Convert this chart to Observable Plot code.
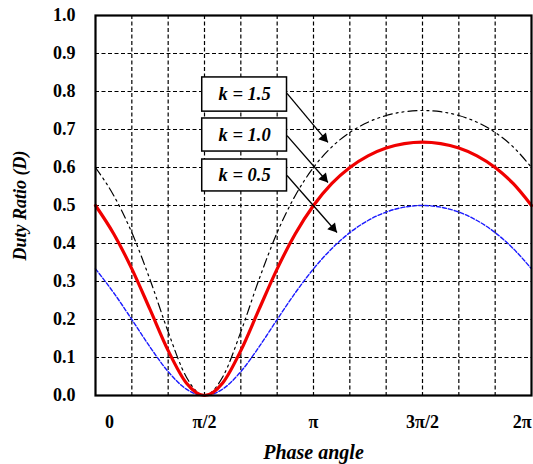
<!DOCTYPE html>
<html><head><meta charset="utf-8">
<script src="https://cdn.jsdelivr.net/npm/d3@7"></script>
<script src="https://cdn.jsdelivr.net/npm/@observablehq/plot@0.6"></script>
<style>body{margin:0;background:#fff;}</style>
</head><body><div id="chart"></div>
<script>
// Phase angle samples (degrees) and duty ratio
const phaseDeg = [0,15,30,45,60,75,90,105,120,135,150,165,180,195,210,225,240,255,270,285,300,315,330,345,360];
const dutyK15 = [0.6,0.5265,0.4286,0.3052,0.1674,0.0487,0,0.0487,0.1674,0.3052,0.4286,0.5265,0.6,0.6538,0.6923,0.7192,0.7368,0.7468,0.75,0.7468,0.7368,0.7192,0.6923,0.6538,0.6];
const dutyK10 = [0.5,0.4257,0.3333,0.2265,0.1182,0.033,0,0.033,0.1182,0.2265,0.3333,0.4257,0.5,0.5573,0.6,0.6306,0.6511,0.6628,0.6667,0.6628,0.6511,0.6306,0.6,0.5573,0.5];
const dutyK05 = [0.3333,0.2704,0.2,0.1277,0.0628,0.0168,0,0.0168,0.0628,0.1277,0.2,0.2704,0.3333,0.3863,0.4286,0.4605,0.4827,0.4957,0.5,0.4957,0.4827,0.4605,0.4286,0.3863,0.3333];
const seriesNames = ["k = 1.5", "k = 1.0", "k = 0.5"];

const xTickLabels = ["0", "π/2", "π", "3π/2", "2π"];
const xTickPos = [0.2, Math.PI / 2, Math.PI, 3 * Math.PI / 2, 6.15];
const yTicks = [0, 0.1, 0.2, 0.3, 0.4, 0.5, 0.6, 0.7, 0.8, 0.9, 1.0];
const gridXTicks = [1,2,3,4,5,6,7,8,9,10,11].map(i => i * Math.PI / 6);

// legend boxes and arrows (data coordinates)
const boxX1 = 1.538, boxX2 = 2.76;
const boxY1 = [0.747, 0.642, 0.537];
const boxY2 = [0.837, 0.729, 0.621];
const arrowY1 = [0.795, 0.684, 0.579];
const arrowX2 = [3.35, 3.35, 3.48];
const arrowY2 = [0.666, 0.5605, 0.429];

const rad = d => d * Math.PI / 180;
const rows = (arr) => phaseDeg.map((d, i) => ({x: rad(d), y: arr[i]}));
const legend = seriesNames.map((name, i) => ({
  name, x1: boxX1, x2: boxX2, y1: boxY1[i], y2: boxY2[i],
  ax1: boxX2, ay1: arrowY1[i], ax2: arrowX2[i], ay2: arrowY2[i]
}));

const font = "'Liberation Serif', 'Times New Roman', serif";

const chart = Plot.plot({
  width: 533,
  height: 464,
  marginLeft: 95,
  marginRight: 2,
  marginTop: 15,
  marginBottom: 69,
  style: {fontFamily: font, fontSize: "17px", fontWeight: "bold", background: "white", color: "black"},
  x: {domain: [0, 2 * Math.PI], axis: null},
  y: {domain: [0, 1]},
  marks: [
    Plot.gridX({ticks: gridXTicks, stroke: "black", strokeOpacity: 1, strokeWidth: 1.2, strokeDasharray: "4,2.5"}),
    Plot.gridY({ticks: yTicks.slice(1, -1), stroke: "black", strokeOpacity: 1, strokeWidth: 1.2, strokeDasharray: "4,2.5"}),
    Plot.line(rows(dutyK05), {x: "x", y: "y", stroke: "#1a1aff", strokeWidth: 1.4, strokeDasharray: "4,2", curve: "monotone-x"}),
    Plot.line(rows(dutyK15), {x: "x", y: "y", stroke: "black", strokeWidth: 1.2, strokeDasharray: "9,4,2,4,2,4", curve: "monotone-x"}),
    Plot.line(rows(dutyK10), {x: "x", y: "y", stroke: "#f00000", strokeWidth: 3.2, curve: "monotone-x"}),
    Plot.rect(legend, {x1: "x1", x2: "x2", y1: "y1", y2: "y2", fill: "white", stroke: "black", strokeWidth: 1.5}),
    Plot.text(legend, {x: d => (d.x1 + d.x2) / 2, y: d => (d.y1 + d.y2) / 2, text: "name", fontSize: 18.5, fontWeight: "bold", fontStyle: "italic"}),
    Plot.link(legend, {x1: "ax1", y1: "ay1", x2: "ax2", y2: "ay2", stroke: "black", strokeWidth: 1.3}),
    Plot.dot(legend, {x: "ax2", y: "ay2", symbol: "triangle", r: 3.8, fill: "black", stroke: null, rotate: 139, dx: -3.9, dy: -4.4}),
    Plot.frame({stroke: "black", strokeWidth: 2.2}),
    Plot.axisY({ticks: yTicks, tickFormat: d => d.toFixed(1), tickSize: 0, tickPadding: 20, label: null, fontSize: 18, fontWeight: "bold"}),
    Plot.text(xTickLabels, {x: (d, i) => xTickPos[i], frameAnchor: "bottom", lineAnchor: "middle", dy: 27, fontSize: 18, fontWeight: "bold"}),
    Plot.text(["Phase angle"], {frameAnchor: "bottom", lineAnchor: "middle", dy: 57, fontSize: 20, fontWeight: "bold", fontStyle: "italic"}),
    Plot.text(["Duty Ratio (D)"], {frameAnchor: "left", textAnchor: "middle", dx: -75, rotate: -90, fontSize: 18, fontWeight: "bold", fontStyle: "italic"})
  ]
});
document.getElementById("chart").appendChild(chart);
</script>
</body></html>
